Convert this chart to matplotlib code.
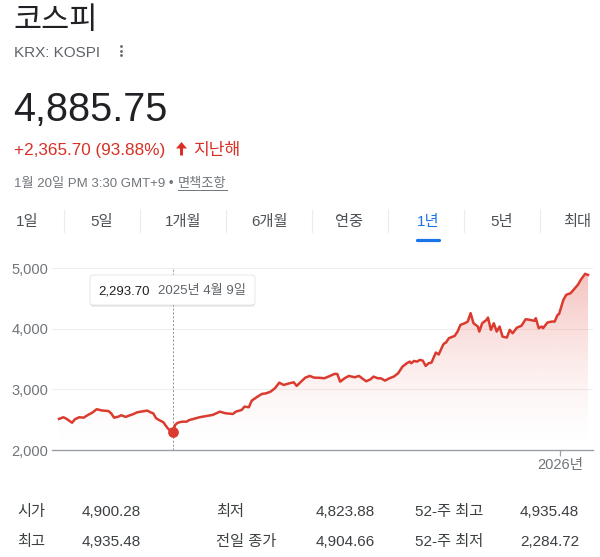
import numpy as np
import matplotlib
matplotlib.use('Agg')
import matplotlib.pyplot as plt
import matplotlib.dates as mdates
from matplotlib.patches import Polygon, FancyBboxPatch

plt.rcParams['font.family'] = ['Liberation Sans', 'Noto Sans CJK KR', 'DejaVu Sans']

# ---------------- data ----------------
dates = [
    '2025-01-20', '2025-01-23', '2025-01-25', '2025-01-29', '2025-01-31', '2025-02-03',
    '2025-02-06', '2025-02-09', '2025-02-12', '2025-02-15', '2025-02-19', '2025-02-23',
    '2025-02-25', '2025-02-27', '2025-03-02', '2025-03-04', '2025-03-07', '2025-03-10',
    '2025-03-12', '2025-03-15', '2025-03-19', '2025-03-22', '2025-03-24', '2025-03-26',
    '2025-03-28', '2025-03-30', '2025-04-02', '2025-04-03', '2025-04-05', '2025-04-07',
    '2025-04-09', '2025-04-10', '2025-04-12', '2025-04-15', '2025-04-18', '2025-04-20',
    '2025-04-22', '2025-04-27', '2025-05-02', '2025-05-06', '2025-05-11', '2025-05-15',
    '2025-05-20', '2025-05-22', '2025-05-26', '2025-05-28', '2025-05-31', '2025-06-02',
    '2025-06-06', '2025-06-09', '2025-06-12', '2025-06-15', '2025-06-18', '2025-06-21',
    '2025-06-24', '2025-06-28', '2025-07-01', '2025-07-03', '2025-07-06', '2025-07-09',
    '2025-07-12', '2025-07-15', '2025-07-19', '2025-07-22', '2025-07-26', '2025-07-29',
    '2025-07-31', '2025-08-02', '2025-08-05', '2025-08-08', '2025-08-12', '2025-08-15',
    '2025-08-18', '2025-08-20', '2025-08-23', '2025-08-25', '2025-08-28', '2025-08-30',
    '2025-09-02', '2025-09-05', '2025-09-08', '2025-09-11', '2025-09-14', '2025-09-17',
    '2025-09-19', '2025-09-20', '2025-09-22', '2025-09-24', '2025-09-26', '2025-09-28',
    '2025-09-30', '2025-10-02', '2025-10-04', '2025-10-07', '2025-10-09', '2025-10-12',
    '2025-10-13', '2025-10-14', '2025-10-16', '2025-10-20', '2025-10-22', '2025-10-24',
    '2025-10-27', '2025-10-29', '2025-10-31', '2025-11-02', '2025-11-05', '2025-11-06',
    '2025-11-08', '2025-11-11', '2025-11-12', '2025-11-14', '2025-11-16', '2025-11-18',
    '2025-11-20', '2025-11-22', '2025-11-25', '2025-11-27', '2025-11-29', '2025-12-02',
    '2025-12-05', '2025-12-08', '2025-12-11', '2025-12-14', '2025-12-15', '2025-12-17',
    '2025-12-19', '2025-12-20', '2025-12-23', '2025-12-26', '2025-12-28', '2025-12-30',
    '2025-12-31', '2026-01-03', '2026-01-05', '2026-01-08', '2026-01-10', '2026-01-13',
    '2026-01-15', '2026-01-18', '2026-01-20',
]
values = [
    2512, 2540, 2517, 2450, 2507, 2540,
    2533, 2578, 2616, 2672, 2650, 2643,
    2605, 2533, 2550, 2573, 2545, 2573,
    2589, 2622, 2639, 2650, 2622, 2605,
    2523, 2495, 2457, 2424, 2358, 2314,
    2293.70, 2412, 2450, 2467, 2467, 2495,
    2507, 2540, 2561, 2578, 2632, 2605,
    2594, 2632, 2660, 2715, 2705, 2814,
    2880, 2924, 2935, 2962, 3018, 3110,
    3072, 3100, 3116, 3056, 3127, 3193,
    3221, 3193, 3190, 3182, 3221, 3254,
    3254, 3127, 3182, 3221, 3199, 3221,
    3166, 3133, 3166, 3210, 3182, 3182,
    3144, 3182, 3210, 3265, 3375, 3430,
    3457, 3430, 3468, 3457, 3485, 3474,
    3386, 3430, 3441, 3606, 3575, 3733,
    3761, 3771, 3843, 3881, 3952, 4063,
    4090, 4117, 4256, 4090, 4035, 3952,
    4090, 4145, 4183, 3980, 4090, 3952,
    4035, 3870, 3853, 3980, 3925, 4018,
    4046, 4156, 4145, 4129, 4173, 4008,
    4035, 4008, 4101, 4117, 4117, 4228,
    4239, 4475, 4558, 4585, 4640, 4723,
    4805, 4904, 4885.75,
]
y_ticks = [2000, 3000, 4000, 5000]
y_tick_labels = ['2,000', '3,000', '4,000', '5,000']
x_tick_dates = ['2026-01-01']
x_tick_labels = ['2026년']
tabs = ['1일', '5일', '1개월', '6개월', '연중', '1년', '5년', '최대']
active_tab = '1년'
hover_date = '2025-04-09'
hover_value = 2293.70
hover_value_label = '2,293.70'
hover_date_label = '2025년 4월 9일'
title = '코스피'
ticker = 'KRX: KOSPI'
price = '4,885.75'
change = '+2,365.70 (93.88%)'
change_period = '지난해'
timestamp = '1월 20일 PM 3:30 GMT+9 •'
disclaimer = '면책조항'
stats_labels = [['시가', '최저', '52-주 최고'], ['최고', '전일 종가', '52-주 최저']]
stats_values = [['4,900.28', '4,823.88', '4,935.48'], ['4,935.48', '4,904.66', '2,284.72']]

# ---------------- style ----------------
RED = '#d93025'
LINE = '#db3b2f'
DARK = '#202124'
GRAY = '#5f6368'
LGRAY = '#70757a'
BLUE = '#1a73e8'

W, H = 600, 557
fig = plt.figure(figsize=(W / 100, H / 100), dpi=100)
fig.patch.set_facecolor('white')

# background overlay in pixel coordinates
bg = fig.add_axes([0, 0, 1, 1], zorder=0)
bg.set_xlim(0, W)
bg.set_ylim(H, 0)
bg.axis('off')

bg.text(13, 29, title, fontsize=22, color=DARK, va='baseline', ha='left',
        family=['Noto Sans CJK KR'], fontweight='medium')
bg.text(14, 57, ticker, fontsize=11, color=GRAY, va='baseline', ha='left')
for yy in (46, 50.5, 55):
    bg.scatter([120.5], [yy], s=4, color=GRAY, marker='o', linewidths=0)
bg.text(13, 121, price, fontsize=28.5, color=DARK, va='baseline', ha='left')
bg.text(14, 155, change, fontsize=12.3, color=RED, va='baseline', ha='left')
# up arrow
bg.add_patch(Polygon([(181.5, 142), (187, 148.5), (183, 148.5), (183, 155.5),
                      (180, 155.5), (180, 148.5), (176, 148.5)], closed=True,
                     facecolor=RED, edgecolor='none'))
bg.text(193, 155, change_period, fontsize=12.3, color=RED, va='baseline', ha='left')
bg.text(14, 187, timestamp, fontsize=9.5, color=LGRAY, va='baseline', ha='left')
bg.text(178, 187, disclaimer, fontsize=9.5, color=LGRAY, va='baseline', ha='left')
bg.plot([178, 227], [190, 190], color=LGRAY, lw=0.7)

# tabs
tab_centers = [27, 102, 183, 269, 349, 428, 502, 577]
seps = [64, 140, 226, 312, 388, 464, 540]
for t, cx in zip(tabs, tab_centers):
    bg.text(cx, 226, t, fontsize=11, ha='center', va='baseline',
            color=BLUE if t == active_tab else '#4d5156')
for sx in seps:
    bg.plot([sx, sx], [210, 232], color='#ececec', lw=0.8)
ia = tabs.index(active_tab)
bg.plot([tab_centers[ia] - 11, tab_centers[ia] + 11], [239.5, 239.5], color=BLUE,
        lw=2.3, solid_capstyle='round')

# stats table
label_x = [17, 216, 415]
value_x = [82, 316, 520]
row_y = [516, 546]
for r in range(2):
    for c in range(3):
        bg.text(label_x[c], row_y[r], stats_labels[r][c], fontsize=11, color='#3c4043',
                va='baseline', ha='left')
        bg.text(value_x[c], row_y[r], stats_values[r][c], fontsize=11, color='#3c4043',
                va='baseline', ha='left')

# ---------------- chart ----------------
left_px, right_px, top_px, bot_px = 52, 593, 268, 450
ax = fig.add_axes([left_px / W, (H - bot_px) / H, (right_px - left_px) / W,
                   (bot_px - top_px) / H], zorder=1)
ax.set_facecolor('none')

x = mdates.date2num(np.array(dates, dtype='datetime64[D]'))
v = np.array(values, dtype=float)
px_per_day = (588 - 59) / (x[-1] - x[0])
xmin = x[0] - (59 - left_px) / px_per_day
xmax = x[-1] + (right_px - 588) / px_per_day

# gradient fill
verts = [(x[0], y_ticks[0])] + list(zip(x, v)) + [(x[-1], y_ticks[0])]
poly = Polygon(verts, closed=True, facecolor='none', edgecolor='none')
ax.add_patch(poly)
n = 256
t = np.linspace(0, 1, n).reshape(-1, 1)
rgba = np.zeros((n, 1, 4))
rgba[..., 0] = 0xe0 / 255
rgba[..., 1] = 0x4e / 255
rgba[..., 2] = 0x43 / 255
rgba[..., 3] = 0.36 * t ** 1.6
im = ax.imshow(rgba, extent=[x[0], x[-1], y_ticks[0], y_ticks[-1]], origin='lower',
               aspect='auto', zorder=1, interpolation='bilinear')
im.set_clip_path(poly)

for yv in y_ticks[1:]:
    ax.axhline(yv, color='#eeeeee', lw=0.8, zorder=0)

ax.plot(x, v, color=LINE, lw=1.8, zorder=3, solid_joinstyle='round')

xh = mdates.date2num(np.datetime64(hover_date))
ax.plot([xh, xh], [y_ticks[0], y_ticks[-1]], color='#8a8e93', lw=0.7,
        ls=(0, (2, 2)), zorder=2)
ax.scatter([xh], [hover_value], s=60, color=LINE, zorder=4, linewidths=0)

ax.set_xlim(xmin, xmax)
ax.set_ylim(y_ticks[0], y_ticks[-1])
for s in ['top', 'right', 'left']:
    ax.spines[s].set_visible(False)
ax.spines['bottom'].set_color('#9aa0a6')
ax.spines['bottom'].set_linewidth(1.0)
ax.set_yticks(y_ticks)
ax.set_yticklabels(y_tick_labels)
ax.tick_params(axis='y', length=0, pad=2.5, labelsize=10.5, labelcolor=LGRAY)
ax.set_xticks(mdates.date2num(np.array(x_tick_dates, dtype='datetime64[D]')))
ax.set_xticklabels(x_tick_labels)
ax.tick_params(axis='x', length=4, width=0.9, color='#9aa0a6', pad=1.5,
               labelsize=10.5, labelcolor=LGRAY)

# ---------------- tooltip ----------------
top = fig.add_axes([0, 0, 1, 1], zorder=5)
top.set_xlim(0, W)
top.set_ylim(H, 0)
top.axis('off')
top.patch.set_alpha(0)
for off, a in [(2.0, 0.05), (1.2, 0.07)]:
    top.add_patch(FancyBboxPatch((90, 275 + off), 165, 30,
                                 boxstyle='round,pad=0,rounding_size=3',
                                 facecolor='black', alpha=a, edgecolor='none'))
top.add_patch(FancyBboxPatch((90, 275), 165, 30, boxstyle='round,pad=0,rounding_size=3',
                             facecolor='white', edgecolor='#e3e3e3', lw=0.6))
top.text(98, 294, hover_value_label, fontsize=9.5, color=DARK, va='baseline', ha='left')
top.text(158, 294, hover_date_label, fontsize=9.5, color=GRAY, va='baseline', ha='left')

fig.savefig('out.png', dpi=100, facecolor='white')
